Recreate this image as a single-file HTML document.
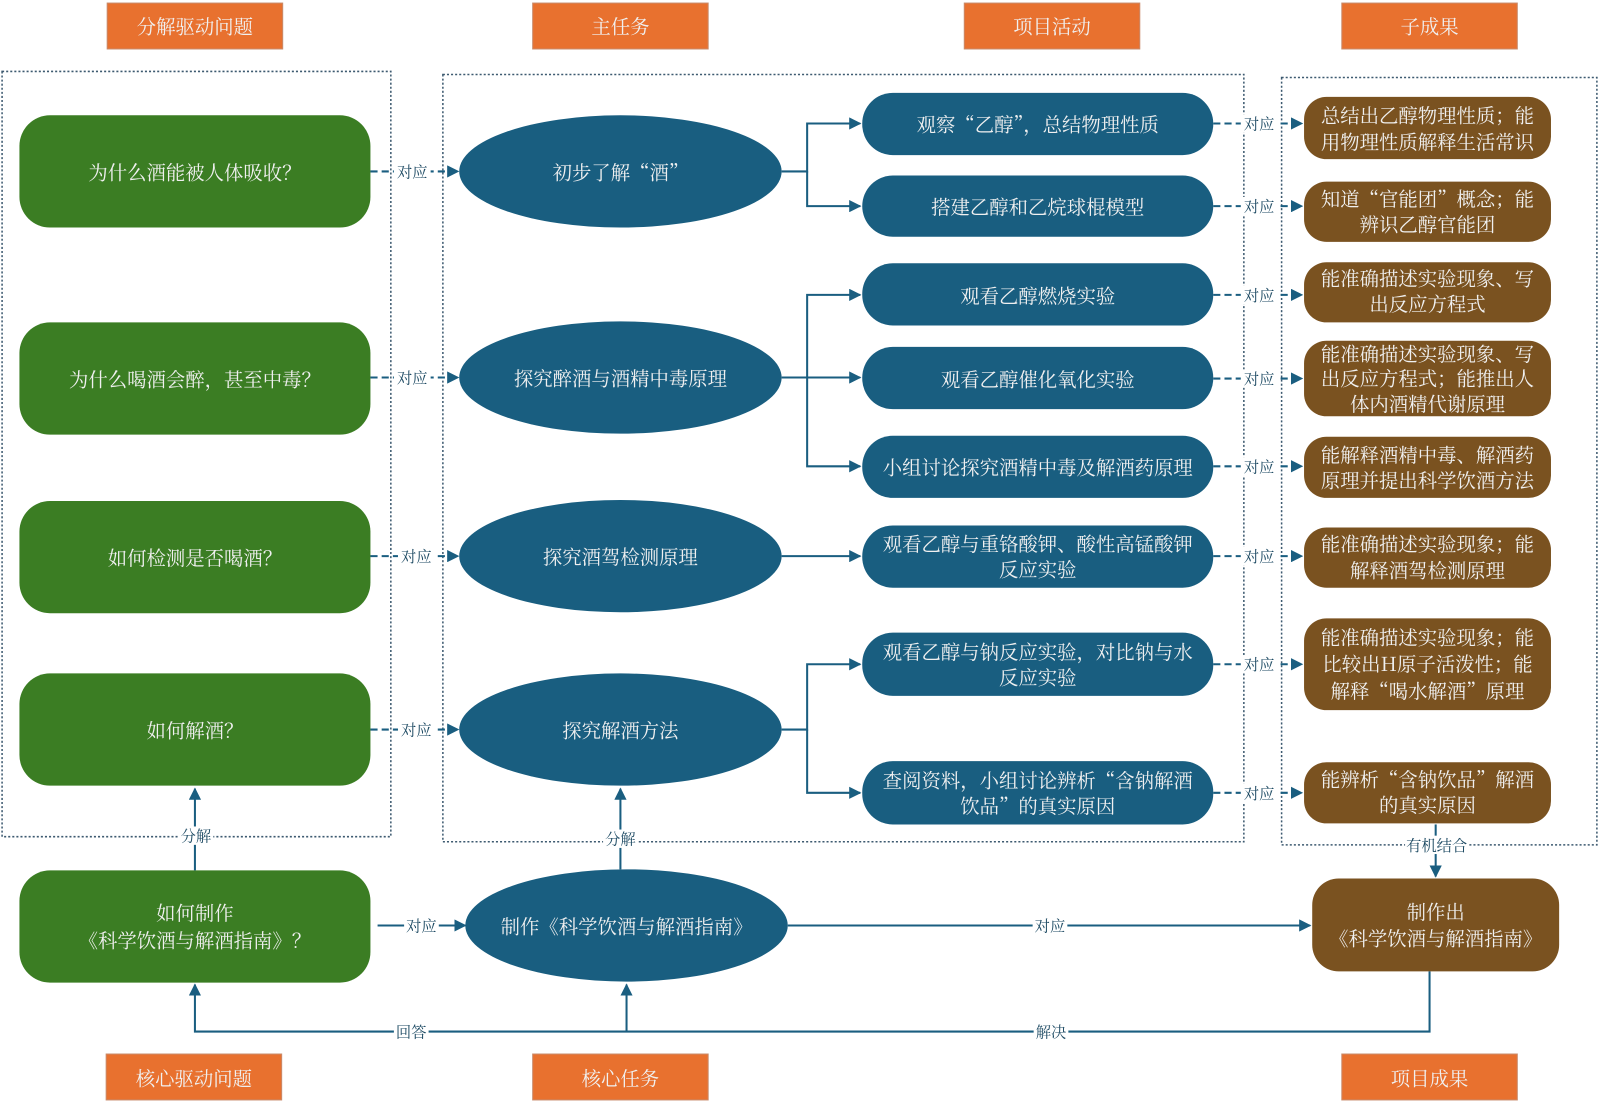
<!DOCTYPE html>
<html><head><meta charset="utf-8"><style>
html,body{margin:0;padding:0;background:#fff;}
svg{display:block}
text{font-family:"Noto Serif CJK SC","Liberation Serif",serif;}
.w{fill:#f0f0f0;font-size:19px;text-anchor:middle;dominant-baseline:central}
.l{fill:#1d4a63;font-size:15px;text-anchor:middle;dominant-baseline:central}
.ln{stroke:#1a5e80;stroke-width:2;fill:none}
.ds{stroke:#1a5e80;stroke-width:2;fill:none;stroke-dasharray:7,4}
.dot{stroke:#3d5a70;stroke-width:1.5;fill:none;stroke-dasharray:2,2}
.g{fill:#3b7d23}.b{fill:#195e80}.br{fill:#7a5220}.o{fill:#e8712f;stroke:#c98a6a}
</style></head><body>
<svg width="1600" height="1103" viewBox="0 0 1568 1081" xmlns="http://www.w3.org/2000/svg">
<defs><marker id="a" viewBox="0 0 10 10" refX="9" refY="5" markerWidth="6" markerHeight="6" orient="auto"><path d="M0,0L10,5L0,10z" fill="#1a5e80"/></marker></defs>
<rect class="o" x="105" y="3" width="172" height="45"/><text class="w" x="191" y="25">分解驱动问题</text>
<rect class="o" x="522" y="3" width="172" height="45"/><text class="w" x="608" y="25">主任务</text>
<rect class="o" x="945" y="3" width="172" height="45"/><text class="w" x="1031" y="25">项目活动</text>
<rect class="o" x="1315" y="3" width="172" height="45"/><text class="w" x="1401" y="25">子成果</text>
<rect class="o" x="104" y="1033" width="172" height="45"/><text class="w" x="190" y="1056">核心驱动问题</text>
<rect class="o" x="522" y="1033" width="172" height="45"/><text class="w" x="608" y="1056">核心任务</text>
<rect class="o" x="1315" y="1033" width="172" height="45"/><text class="w" x="1401" y="1056">项目成果</text>
<rect class="dot" x="2" y="70" width="381" height="750"/>
<rect class="dot" x="434" y="73" width="785" height="752"/>
<rect class="dot" x="1256" y="76" width="309" height="752"/>
<rect class="g" x="19" y="113" width="344" height="110" rx="30"/><text class="w" x="191" y="168">为什么酒能被人体吸收？</text>
<rect class="g" x="19" y="316" width="344" height="110" rx="30"/><text class="w" x="191" y="371">为什么喝酒会醉，甚至中毒？</text>
<rect class="g" x="19" y="491" width="344" height="110" rx="30"/><text class="w" x="191" y="546">如何检测是否喝酒？</text>
<rect class="g" x="19" y="660" width="344" height="110" rx="30"/><text class="w" x="191" y="715">如何解酒？</text>
<rect class="g" x="19" y="853" width="344" height="110" rx="30"/><text class="w" x="191" y="894">如何制作</text><text class="w" x="191" y="921">《科学饮酒与解酒指南》？</text>
<ellipse class="b" cx="608" cy="168" rx="158" ry="55"/><text class="w" x="608" y="168">初步了解“酒”</text>
<ellipse class="b" cx="608" cy="370" rx="158" ry="55"/><text class="w" x="608" y="370">探究醉酒与酒精中毒原理</text>
<ellipse class="b" cx="608" cy="545" rx="158" ry="55"/><text class="w" x="608" y="545">探究酒驾检测原理</text>
<ellipse class="b" cx="608" cy="715" rx="158" ry="55"/><text class="w" x="608" y="715">探究解酒方法</text>
<ellipse class="b" cx="614" cy="907" rx="158" ry="55"/><text class="w" x="614" y="907">制作《科学饮酒与解酒指南》</text>
<g>
<line class="ds" x1="363" y1="168" x2="449" y2="168" marker-end="url(#a)"/><rect x="386" y="159" width="36" height="18" fill="#fff"/><text class="l" x="404" y="168">对应</text>
<line class="ds" x1="363" y1="370" x2="449" y2="370" marker-end="url(#a)"/><rect x="386" y="361" width="36" height="18" fill="#fff"/><text class="l" x="404" y="370">对应</text>
<line class="ds" x1="363" y1="545" x2="449" y2="545" marker-end="url(#a)"/><rect x="390" y="536" width="36" height="18" fill="#fff"/><text class="l" x="408" y="545">对应</text>
<line class="ds" x1="363" y1="715" x2="449" y2="715" marker-end="url(#a)"/><rect x="390" y="706" width="36" height="18" fill="#fff"/><text class="l" x="408" y="715">对应</text>
</g>
<path class="ln" d="M766,168H791V121H843" marker-end="url(#a)"/><path class="ln" d="M791,168V202H843" marker-end="url(#a)"/>
<path class="ln" d="M766,370H791V289H843" marker-end="url(#a)"/><path class="ln" d="M791,370H843" marker-end="url(#a)"/><path class="ln" d="M791,370V457H843" marker-end="url(#a)"/>
<path class="ln" d="M766,545H843" marker-end="url(#a)"/>
<path class="ln" d="M766,715H791V651H843" marker-end="url(#a)"/><path class="ln" d="M791,715V777H843" marker-end="url(#a)"/>
<rect class="b" x="845" y="91" width="344" height="61" rx="30"/><text class="w" x="1017" y="121">观察“乙醇”，总结物理性质</text>
<rect class="b" x="845" y="172" width="344" height="60" rx="30"/><text class="w" x="1017" y="202">搭建乙醇和乙烷球棍模型</text>
<rect class="b" x="845" y="258" width="344" height="61" rx="30"/><text class="w" x="1017" y="289">观看乙醇燃烧实验</text>
<rect class="b" x="845" y="340" width="344" height="61" rx="30"/><text class="w" x="1017" y="371">观看乙醇催化氧化实验</text>
<rect class="b" x="845" y="427" width="344" height="61" rx="30"/><text class="w" x="1017" y="457">小组讨论探究酒精中毒及解酒药原理</text>
<rect class="b" x="845" y="515" width="344" height="61" rx="30"/><text class="w" x="1017" y="532">观看乙醇与重铬酸钾、酸性高锰酸钾</text><text class="w" x="1017" y="557">反应实验</text>
<rect class="b" x="845" y="620" width="344" height="62" rx="30"/><text class="w" x="1017" y="638">观看乙醇与钠反应实验，对比钠与水</text><text class="w" x="1017" y="663">反应实验</text>
<rect class="b" x="845" y="746" width="344" height="62" rx="30"/><text class="w" x="1017" y="764">查阅资料，小组讨论辨析“含钠解酒</text><text class="w" x="1017" y="789">饮品”的真实原因</text>
<g>
<line class="ds" x1="1189" y1="121" x2="1276" y2="121" marker-end="url(#a)"/><rect x="1216" y="112" width="36" height="18" fill="#fff"/><text class="l" x="1234" y="121">对应</text>
<line class="ds" x1="1189" y1="202" x2="1276" y2="202" marker-end="url(#a)"/><rect x="1216" y="193" width="36" height="18" fill="#fff"/><text class="l" x="1234" y="202">对应</text>
<line class="ds" x1="1189" y1="289" x2="1276" y2="289" marker-end="url(#a)"/><rect x="1216" y="280" width="36" height="18" fill="#fff"/><text class="l" x="1234" y="289">对应</text>
<line class="ds" x1="1189" y1="371" x2="1276" y2="371" marker-end="url(#a)"/><rect x="1216" y="362" width="36" height="18" fill="#fff"/><text class="l" x="1234" y="371">对应</text>
<line class="ds" x1="1189" y1="457" x2="1276" y2="457" marker-end="url(#a)"/><rect x="1216" y="448" width="36" height="18" fill="#fff"/><text class="l" x="1234" y="457">对应</text>
<line class="ds" x1="1189" y1="545" x2="1276" y2="545" marker-end="url(#a)"/><rect x="1216" y="536" width="36" height="18" fill="#fff"/><text class="l" x="1234" y="545">对应</text>
<line class="ds" x1="1189" y1="651" x2="1276" y2="651" marker-end="url(#a)"/><rect x="1216" y="642" width="36" height="18" fill="#fff"/><text class="l" x="1234" y="651">对应</text>
<line class="ds" x1="1189" y1="777" x2="1276" y2="777" marker-end="url(#a)"/><rect x="1216" y="768" width="36" height="18" fill="#fff"/><text class="l" x="1234" y="777">对应</text>
</g>
<rect class="br" x="1278" y="95" width="242" height="61" rx="22"/><text class="w" x="1399" y="112">总结出乙醇物理性质；能</text><text class="w" x="1399" y="138">用物理性质解释生活常识</text>
<rect class="br" x="1278" y="178" width="242" height="59" rx="22"/><text class="w" x="1399" y="194">知道“官能团”概念；能</text><text class="w" x="1399" y="219">辨识乙醇官能团</text>
<rect class="br" x="1278" y="257" width="242" height="59" rx="22"/><text class="w" x="1399" y="272">能准确描述实验现象、写</text><text class="w" x="1399" y="297">出反应方程式</text>
<rect class="br" x="1278" y="334" width="242" height="74" rx="22"/><text class="w" x="1399" y="346">能准确描述实验现象、写</text><text class="w" x="1399" y="370">出反应方程式；能推出人</text><text class="w" x="1399" y="395">体内酒精代谢原理</text>
<rect class="br" x="1278" y="428" width="242" height="60" rx="22"/><text class="w" x="1399" y="445">能解释酒精中毒、解酒药</text><text class="w" x="1399" y="470">原理并提出科学饮酒方法</text>
<rect class="br" x="1278" y="517" width="242" height="59" rx="22"/><text class="w" x="1399" y="532">能准确描述实验现象；能</text><text class="w" x="1399" y="558">解释酒驾检测原理</text>
<rect class="br" x="1278" y="606" width="242" height="90" rx="22"/><text class="w" x="1399" y="624">能准确描述实验现象；能</text><text class="w" x="1399" y="650">比较出H原子活泼性；能</text><text class="w" x="1399" y="676">解释“喝水解酒”原理</text>
<rect class="br" x="1278" y="747" width="242" height="60" rx="22"/><text class="w" x="1399" y="763">能辨析“含钠饮品”解酒</text><text class="w" x="1399" y="788">的真实原因</text>
<rect class="br" x="1286" y="861" width="242" height="91" rx="26"/><text class="w" x="1407" y="893">制作出</text><text class="w" x="1407" y="919">《科学饮酒与解酒指南》</text>
<line class="ln" x1="1407" y1="808" x2="1407" y2="859" marker-end="url(#a)"/><rect x="1377" y="819" width="62" height="18" fill="#fff"/><text class="l" x="1408" y="828">有机结合</text>
<line class="ln" x1="191" y1="853" x2="191" y2="773" marker-end="url(#a)"/><rect x="175" y="810" width="34" height="18" fill="#fff"/><text class="l" x="192" y="819">分解</text>
<line class="ln" x1="608" y1="852" x2="608" y2="773" marker-end="url(#a)"/><rect x="591" y="813" width="34" height="18" fill="#fff"/><text class="l" x="608" y="822">分解</text>
<line class="ln" x1="370" y1="907" x2="456" y2="907" marker-end="url(#a)"/><rect x="396" y="898" width="34" height="18" fill="#fff"/><text class="l" x="413" y="907">对应</text>
<line class="ln" x1="772" y1="907" x2="1284" y2="907" marker-end="url(#a)"/><rect x="1012" y="898" width="34" height="18" fill="#fff"/><text class="l" x="1029" y="907">对应</text>
<path class="ln" d="M1401,952V1011H191V965" marker-end="url(#a)"/>
<line class="ln" x1="614" y1="1011" x2="614" y2="965" marker-end="url(#a)"/>
<rect x="386" y="1002" width="34" height="18" fill="#fff"/><text class="l" x="403" y="1011">回答</text>
<rect x="1013" y="1002" width="34" height="18" fill="#fff"/><text class="l" x="1030" y="1011">解决</text>
</svg>
</body></html>
